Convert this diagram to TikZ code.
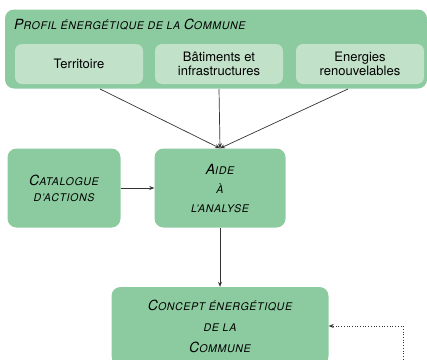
\documentclass[tikz,border=0pt]{standalone}
\usepackage{fontspec}
\setmainfont{TeX Gyre Heros}
\newfontfamily\titrefont[LetterSpace=6]{TeX Gyre Heros}
\usetikzlibrary{arrows.meta}
\definecolor{vert}{HTML}{8CCB9F}
\definecolor{vertclair}{HTML}{C2E1C9}
\definecolor{trait}{HTML}{333333}
\newcommand\gr[1]{{\fontsize{14}{0}\selectfont#1}}
\newcommand\pt[1]{{\fontsize{10.6}{0}\selectfont#1}}
\begin{document}
\begin{tikzpicture}[x=1pt,y=-1pt,
  bloc/.style={fill=vert,rounded corners=9pt,align=center,font=\titrefont\itshape\fontsize{10.6}{#1}\selectfont},
  bloc/.default=19,
  sousbloc/.style={fill=vertclair,rounded corners=7pt,align=center,minimum width=128,minimum height=40,font=\fontsize{13}{14}\selectfont},
  fleche/.style={draw=trait,line width=0.7pt,-{Stealth[length=5pt,width=4pt]}}]
\clip (0,0) rectangle (427,359);
\node[bloc,minimum width=422,minimum height=79] (profil) at (216,49) {};
\node[bloc,anchor=west,inner sep=0pt] (titre) at (14,25) {\gr{P}\pt{ROFIL} \pt{ÉNERGÉTIQUE} \pt{DE LA} \gr{C}\pt{OMMUNE}};
\node[sousbloc] (territoire) at (79,64) {Territoire};
\node[sousbloc] (batiments) at (219,64) {Bâtiments et\\infrastructures};
\node[sousbloc] (energies) at (360,64) {Energies\\renouvelables};
\node[bloc=16,minimum width=113,minimum height=79] (catalogue) at (64,188) {\gr{C}\pt{ATALOGUE}\\\pt{D’ACTIONS}};
\node[bloc,minimum width=131,minimum height=79] (aide) at (220,188) {\gr{A}\pt{IDE}\\\pt{À}\\\pt{L’ANALYSE}};
\node[bloc=21,minimum width=217,minimum height=78] (concept) at (220,326) {\gr{C}\pt{ONCEPT} \pt{ÉNERGÉTIQUE}\\\pt{DE LA}\\\gr{C}\pt{OMMUNE}};
% liens
\coordinate (d1) at (100,89); \coordinate (d2) at (219,89); \coordinate (d3) at (348,89);
\foreach \d in {d1,d2,d3} \draw[fleche] (\d) -- (aide.north);
\draw[fleche] (catalogue) -- (aide);
\draw[fleche] (aide) -- (concept);
\coordinate (retour) at (403,362);
\draw[fleche,dotted,line width=0.6pt] (retour) |- (concept.east);
\end{tikzpicture}
\end{document}
